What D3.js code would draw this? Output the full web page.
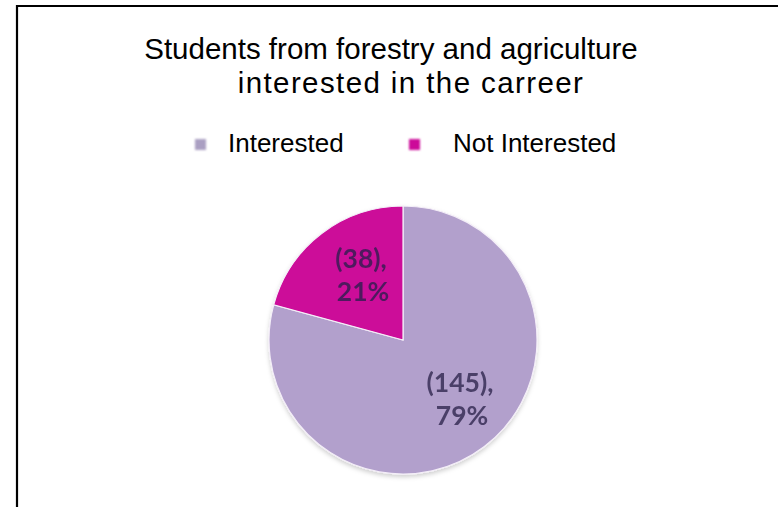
<!DOCTYPE html>
<html>
<head>
<meta charset="utf-8">
<script src="https://cdn.jsdelivr.net/npm/d3@7/dist/d3.min.js"></script>
<style>
  html, body { margin: 0; padding: 0; background: #fff; }
  svg { display: block; }
</style>
</head>
<body>
<svg id="chart" width="778" height="507"></svg>
<script>
// Survey answers
const categories = ["Interested", "Not Interested"];
const counts = [145, 38];
const percents = [79, 21];
const colors = ["#b2a0cc", "#cc0a99"];
const titleLines = ["Students from forestry and agriculture", "interested in the carreer"];

const svg = d3.select("#chart");
const W = 778, H = 507;

// Outer frame: top and left rules
svg.append("path")
  .attr("d", `M17,${H} V6 H${W}`)
  .attr("fill", "none")
  .attr("stroke", "#000")
  .attr("stroke-width", 2.2);

// Title (two centred lines, the second set a little looser)
const titleX = [391, 411];
const titleSpacing = [0, 1.4];
const title = svg.append("text")
  .attr("text-anchor", "middle")
  .attr("font-family", "Liberation Sans, Arial, sans-serif")
  .attr("font-size", 29.5)
  .attr("fill", "#000");
title.selectAll("tspan")
  .data(titleLines)
  .join("tspan")
  .attr("x", (d, i) => titleX[i])
  .attr("y", (d, i) => 59 + i * 34)
  .attr("letter-spacing", (d, i) => titleSpacing[i])
  .text(d => d);

// Legend
const legendX = d3.scaleOrdinal().domain(categories).range([195, 409]);
const legend = svg.append("g").selectAll("g")
  .data(categories)
  .join("g")
  .attr("transform", d => `translate(${legendX(d)},139)`);
legend.append("rect")
  .attr("width", 11).attr("height", 11)
  .attr("fill", (d, i) => i === 0 ? "#aa9fc2" : colors[i])
  .style("filter", "blur(0.8px)");
legend.append("text")
  .attr("x", (d, i) => i === 0 ? 33 : 44)
  .attr("y", 13)
  .attr("font-family", "Liberation Sans, Arial, sans-serif")
  .attr("font-size", 26)
  .attr("fill", "#000")
  .text(d => d);

// Pie
const cx = 403, cy = 340, r = 134;
const defs = svg.append("defs");
const shadow = defs.append("filter").attr("id", "soft").attr("x", "-10%").attr("y", "-10%").attr("width", "120%").attr("height", "125%");
shadow.append("feDropShadow")
  .attr("dx", 0).attr("dy", 2.5).attr("stdDeviation", 2)
  .attr("flood-color", "#000").attr("flood-opacity", 0.18);

const pie = d3.pie().sort(null).value(d => d)(counts);
const arc = d3.arc().innerRadius(0).outerRadius(r);

const g = svg.append("g").attr("transform", `translate(${cx},${cy})`);
g.append("g").attr("filter", "url(#soft)")
  .selectAll("path")
  .data(pie)
  .join("path")
  .attr("d", arc)
  .attr("fill", (d, i) => colors[i])
  .attr("stroke", "#f4eef8")
  .attr("stroke-width", 1.2)
  .style("filter", "blur(0.5px)");

// Value labels
const labelColor = ["#4a3f68", "#4e1a5e"];
const labelPos = [[57, 52], [-42, -72]];
const labels = g.append("g").selectAll("text")
  .data(pie)
  .join("text")
  .attr("text-anchor", "middle")
  .attr("font-family", "Lato, 'Open Sans', sans-serif")
  .attr("font-weight", "bold")
  .attr("font-size", 26.5)
  .attr("fill", (d, i) => labelColor[i])
  .style("filter", "blur(0.6px)");
labels.append("tspan")
  .attr("x", (d, i) => labelPos[i][0])
  .attr("y", (d, i) => labelPos[i][1])
  .text((d, i) => `(${counts[i]}),`);
labels.append("tspan")
  .attr("x", (d, i) => labelPos[i][0] + 2)
  .attr("y", (d, i) => labelPos[i][1] + 33)
  .text((d, i) => `${percents[i]}%`);
</script>
</body>
</html>
